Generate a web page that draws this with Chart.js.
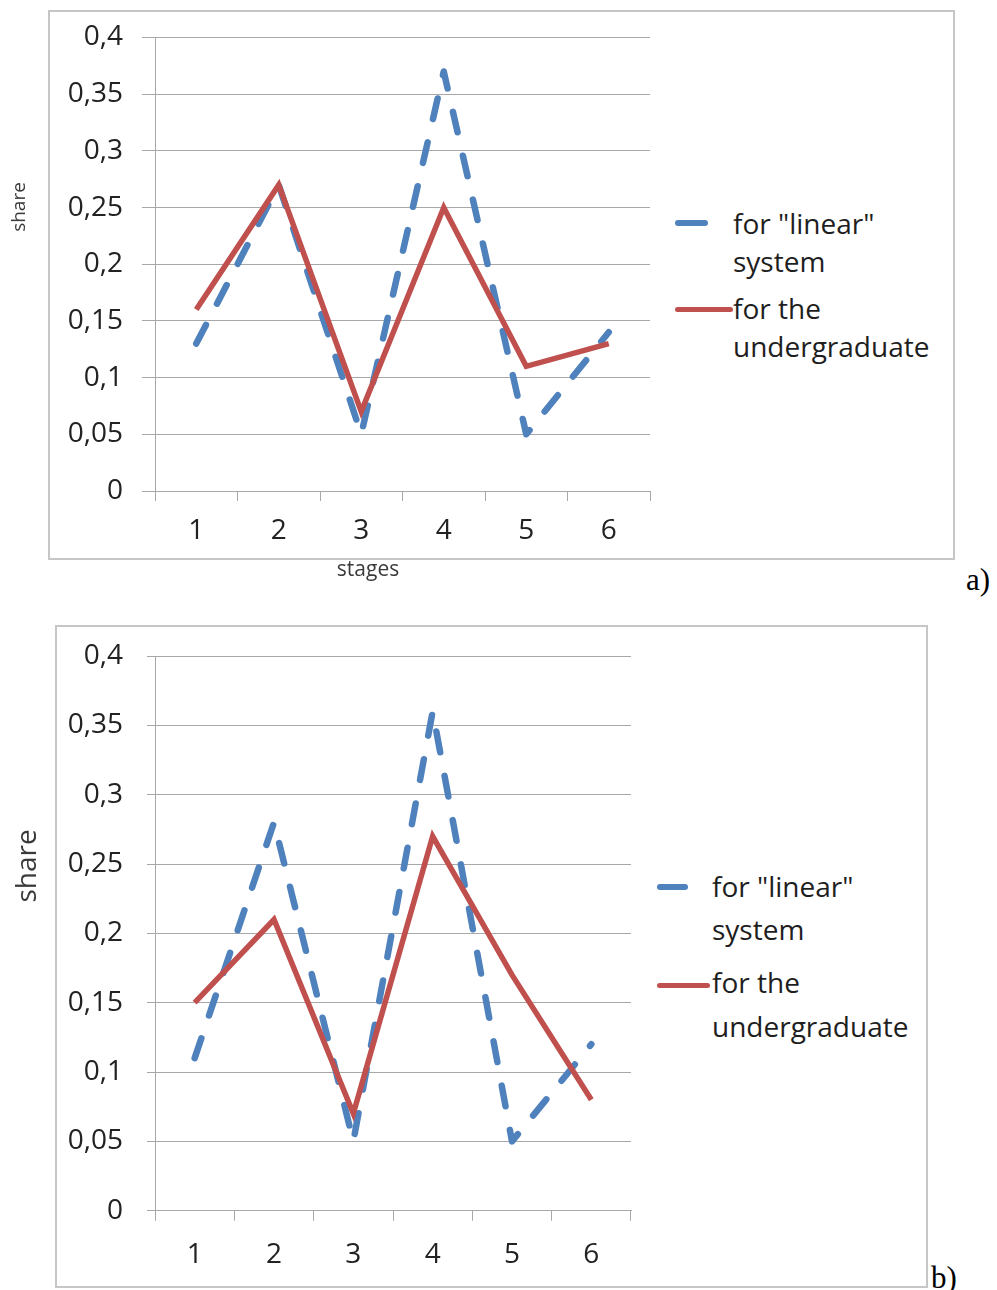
<!DOCTYPE html>
<html>
<head>
<meta charset="utf-8">
<script src="https://cdn.jsdelivr.net/npm/chart.js@4.4.1/dist/chart.umd.min.js"></script>
<style>
html,body{margin:0;padding:0;background:#fff;}
body{width:997px;height:1290px;position:relative;overflow:hidden;font-family:'Open Sans',sans-serif;}
.box{position:absolute;border:2px solid #c6c6c6;box-sizing:border-box;}
canvas{position:absolute;left:0;}
.lgl{position:absolute;font-size:28px;line-height:38px;color:#1e1e1e;white-space:nowrap;}
.smp{position:absolute;border-radius:3px;}
.ytitle{position:absolute;width:120px;height:30px;line-height:30px;text-align:center;color:#3a3a3a;transform:rotate(-90deg);}
.xtitle{position:absolute;width:120px;height:30px;line-height:30px;text-align:center;color:#3a3a3a;font-size:21px;}
.tag{position:absolute;font-family:'Liberation Serif','Times New Roman',serif;font-size:31px;line-height:1;color:#000;}
</style>
</head>
<body>
<div class="box" style="left:48px;top:10px;width:907px;height:550px;"></div>
<div class="box" style="left:55px;top:625px;width:873px;height:663px;"></div>
<canvas id="ca" width="700" height="560" style="top:0;"></canvas>
<canvas id="cb" width="700" height="690" style="top:600px;"></canvas>
<div id="overlay"></div>
<script>
// ---- data ----
const stages = ['1', '2', '3', '4', '5', '6'];
const yTickLabels = ['0', '0,05', '0,1', '0,15', '0,2', '0,25', '0,3', '0,35', '0,4'];
const seriesNames = ['for "linear" system', 'for the undergraduate'];
const legendLines = [['for "linear"', 'system'], ['for the', 'undergraduate']];
const yTitle = 'share';
const xTitle = 'stages';
const panelTags = ['a)', 'b)'];

const linearA = [0.13, 0.27, 0.05, 0.37, 0.05, 0.14];
const undergradA = [0.16, 0.27, 0.07, 0.25, 0.11, 0.13];
const linearB = [0.11, 0.28, 0.05, 0.36, 0.05, 0.12];
const undergradB = [0.15, 0.21, 0.07, 0.27, 0.17, 0.08];

const BLUE = '#4F81BD';
const RED = '#C0504D';
const GRID = '#a8a8a8';
const TXT = '#222222';

function makeChart(id, linear, under, L) {
  return new Chart(document.getElementById(id), {
    type: 'line',
    data: {
      labels: stages,
      datasets: [
        { label: seriesNames[0], data: linear, borderColor: BLUE, backgroundColor: BLUE,
          borderWidth: 6.5, borderDash: [21, 24], borderCapStyle: 'round', borderJoinStyle: 'round',
          pointRadius: 0, tension: 0, fill: false, order: 2 },
        { label: seriesNames[1], data: under, borderColor: RED, backgroundColor: RED,
          borderWidth: 5.5, pointRadius: 0, tension: 0, fill: false, order: 1 }
      ]
    },
    options: {
      responsive: false,
      animation: false,
      events: [],
      layout: { padding: { left: 0, top: L.top, right: L.right, bottom: 0 } },
      plugins: { legend: { display: false }, tooltip: { enabled: false } },
      scales: {
        x: {
          type: 'category',
          offset: true,
          grid: { offset: true, drawOnChartArea: false, drawTicks: true, tickLength: 10, color: GRID, lineWidth: 1 },
          border: { display: true, color: GRID, width: 1 },
          ticks: { color: TXT, font: { family: 'Open Sans', size: 28 }, padding: L.xpad, maxRotation: 0, autoSkip: false },
          afterFit: s => { s.height = L.xh; }
        },
        y: {
          min: 0, max: 0.4,
          grid: { color: GRID, lineWidth: 1, drawTicks: true, tickLength: L.ytl },
          border: { display: true, color: GRID, width: 1 },
          ticks: { stepSize: 0.05, color: TXT, font: { family: 'Open Sans', size: 28 }, padding: L.ypad,
                   callback: v => yTickLabels[Math.round(v / 0.05)] },
          afterFit: s => { s.width = 155; }
        }
      }
    }
  });
}

makeChart('ca', linearA, undergradA, { top: 37.5, right: 50, xh: 69, xpad: 13, ytl: 13, ypad: 19 });
makeChart('cb', linearB, undergradB, { top: 56, right: 69, xh: 79.3, xpad: 18, ytl: 8, ypad: 24 });

// ---- legends and titles (HTML text) ----
const ov = document.getElementById('overlay');
function add(cls, style, text) {
  const d = document.createElement('div');
  d.className = cls;
  d.setAttribute('style', style);
  if (text !== undefined) d.textContent = text;
  ov.appendChild(d);
}
function legend(x, tops, sb, sr) {
  legendLines.forEach((lines, i) => lines.forEach((t, j) => add('lgl', `left:${x}px;top:${tops[i][j]}px;`, t)));
  add('smp', `left:${sb[0]}px;top:${sb[1] - 3}px;width:${sb[2]}px;height:6px;background:${BLUE};`);
  add('smp', `left:${sr[0]}px;top:${sr[1] - 2.5}px;width:${sr[2]}px;height:5px;background:${RED};`);
}
legend(733, [[204, 242], [289, 327]], [675, 223, 33], [675, 309, 58]);
legend(712, [[867, 910], [963, 1007]], [657, 887, 31], [657, 985, 53]);

add('ytitle', 'left:-42px;top:192px;font-size:19px;', yTitle);
add('ytitle', 'left:-35px;top:851px;font-size:28px;', yTitle);
add('xtitle', 'left:308px;top:553px;', xTitle);
add('tag', 'left:966px;top:564px;', panelTags[0]);
add('tag', 'left:931px;top:1262px;', panelTags[1]);
</script>
</body>
</html>
